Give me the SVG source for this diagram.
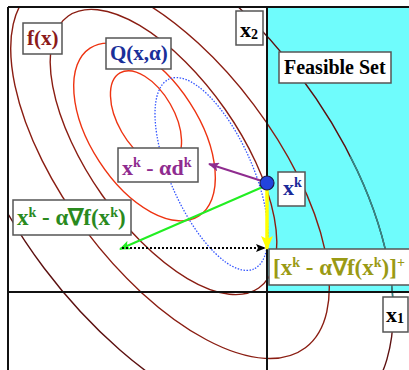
<svg xmlns="http://www.w3.org/2000/svg" width="409" height="370" viewBox="0 0 409 370">
<defs>
<clipPath id="frame"><rect x="8" y="7" width="401" height="363"/></clipPath>
<clipPath id="cyanclip"><rect x="267" y="7" width="142" height="285"/></clipPath>
<marker id="mPurple" markerWidth="11" markerHeight="9" refX="10" refY="4.5" orient="auto" markerUnits="userSpaceOnUse"><path d="M0,0 L11,4.5 L0,9 L2.5,4.5 Z" fill="#8f2c8f"/></marker>
<marker id="mGreen" markerWidth="11" markerHeight="9" refX="10" refY="4.5" orient="auto" markerUnits="userSpaceOnUse"><path d="M0,0 L11,4.5 L0,9 L2.5,4.5 Z" fill="#22ee22"/></marker>
<marker id="mYellow" markerWidth="14" markerHeight="12" refX="13" refY="6" orient="auto" markerUnits="userSpaceOnUse"><path d="M0,0 L14,6 L0,12 L3,6 Z" fill="#ffff00"/></marker>
<marker id="mBlack" markerWidth="10" markerHeight="8" refX="9" refY="4" orient="auto" markerUnits="userSpaceOnUse"><path d="M0,0 L10,4 L0,8 L2,4 Z" fill="#000"/></marker>
</defs>
<style>
.box{fill:#fff;stroke:#555;stroke-width:1.5}
text{font-family:"Liberation Serif","Times New Roman",serif;font-weight:bold}
.ell{fill:none;stroke-width:1.4}
.dred{stroke:#8a1d12}
.vdred{stroke:#5c1010}
.red{stroke:#ee3311}
.axis{stroke:#111;stroke-width:2;fill:none}
</style>
<rect width="409" height="370" fill="#fff"/>
<rect x="267" y="7" width="142" height="285" fill="#6ffcfc"/>
<g id="contours" clip-path="url(#frame)">
<ellipse class="ell red" cx="146" cy="118" rx="52" ry="28" transform="rotate(60 146 118)"/>
<ellipse class="ell red" cx="144.5" cy="132" rx="100" ry="54" transform="rotate(57 144.5 132)"/>
<ellipse class="ell dred" cx="163.5" cy="152" rx="166" ry="75" transform="rotate(55 163.5 152)"/>
<ellipse class="ell dred" cx="170" cy="168" rx="225" ry="105" transform="rotate(53 170 168)"/>
<ellipse class="ell vdred" cx="172" cy="172" rx="300" ry="160" transform="rotate(53 172 172)"/>
<ellipse class="ell" stroke="#2e8b8b" cx="172" cy="172" rx="300" ry="160" transform="rotate(53 172 172)" clip-path="url(#cyanclip)"/>
<ellipse fill="none" stroke="#3355ff" stroke-width="1.3" stroke-dasharray="1.5,1.5" cx="211.5" cy="174" rx="104" ry="41" transform="rotate(66 211.5 174)"/>
</g>
<g id="axes">
<path class="axis" d="M8,7 H409 M8,7 V370 M267,7 V370 M8,292 H409"/>
</g>
<g id="connectors" fill="none">
<line x1="262" y1="181" x2="209" y2="164" stroke="#8f2c8f" stroke-width="2" marker-end="url(#mPurple)"/>
<line x1="265" y1="186" x2="120" y2="249" stroke="#22ee22" stroke-width="2" marker-end="url(#mGreen)"/>
<line x1="122" y1="248" x2="265" y2="248" stroke="#000" stroke-width="2" stroke-dasharray="2,2" marker-end="url(#mBlack)"/>
<line x1="267" y1="188" x2="267" y2="249" stroke="#ffff00" stroke-width="3.5" marker-end="url(#mYellow)"/>
</g>
<g id="point-xk"><circle cx="267" cy="183" r="7" fill="#2244dd" stroke="#1a1a4a" stroke-width="1.2"/></g>
<g id="label-fx"><rect class="box" x="23" y="23" width="39" height="31"/><text x="27" y="45" font-size="21" fill="#8b1a1a">f(x)</text></g>
<g id="label-Q"><rect class="box" x="106" y="38" width="65" height="31"/><text x="110" y="60" font-size="21" fill="#1a2f99">Q(x,α)</text></g>
<g id="label-x2"><rect class="box" x="236" y="11" width="27" height="34"/><text x="240" y="37" font-size="22" fill="#000">x<tspan font-size="14" dy="2">2</tspan></text></g>
<g id="label-feasible"><rect class="box" x="279" y="52" width="112" height="31"/><text x="284" y="74" font-size="20" fill="#000">Feasible Set</text></g>
<g id="label-xk-ad"><rect class="box" x="118" y="148" width="80" height="34"/><text x="122" y="175" font-size="22" fill="#8f2c8f">x<tspan font-size="14" dy="-8">k</tspan><tspan dy="8"> - αd</tspan><tspan font-size="14" dy="-8">k</tspan></text></g>
<g id="label-xk"><rect class="box" x="278" y="172" width="27" height="34"/><text x="283" y="195" font-size="22" fill="#1a2a99">x<tspan font-size="14" dy="-8">k</tspan></text></g>
<g id="label-grad"><rect class="box" x="13" y="200" width="118" height="35"/><text x="17" y="225" font-size="23" fill="#2a8a1e">x<tspan font-size="14" dy="-8">k</tspan><tspan dy="8"> - α∇f(x</tspan><tspan font-size="14" dy="-8">k</tspan><tspan dy="8">)</tspan></text></g>
<g id="label-proj"><rect class="box" x="269" y="249" width="145" height="36"/><text x="273" y="275" font-size="23" fill="#9a9a14">[x<tspan font-size="14" dy="-8">k</tspan><tspan dy="8"> - α∇f(x</tspan><tspan font-size="14" dy="-8">k</tspan><tspan dy="8">)]</tspan><tspan font-size="14" dy="-8">+</tspan></text></g>
<g id="label-x1"><rect class="box" x="383" y="297" width="25" height="35"/><text x="386" y="322" font-size="22" fill="#000">x<tspan font-size="14" dy="1">1</tspan></text></g>
</svg>
